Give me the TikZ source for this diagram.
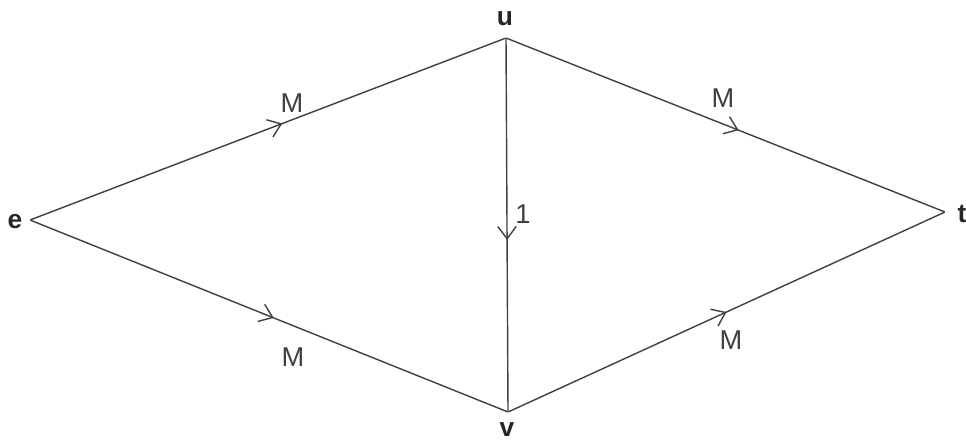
\documentclass[tikz,border=0pt]{standalone}
\usepackage{fontspec}
\setmainfont{Liberation Sans}
\usepackage{tikz}
\usetikzlibrary{arrows.meta, decorations.markings, positioning}

\begin{document}
\begin{tikzpicture}[
    x=0.02cm, y=-0.02cm,
    vertex/.style={inner sep=0pt, minimum size=0pt},
    vlabel/.style={font=\bfseries\fontsize{15}{15}\selectfont, text=black!85},
    edge/.style={line width=0.8pt, draw=black!75,
        postaction={decorate, decoration={markings,
            mark=at position #1 with {\arrow{Straight Barb[length=7pt, width=10.5pt, line width=0.8pt]}}}}},
    edge/.default=0.52,
    weight/.style={font=\fontsize{15.5}{15.5}\selectfont, text=black!75}
]
    \useasboundingbox (0,0) rectangle (966,440);

    % Vertices
    \node[vertex] (u) at (506,38) {};
    \node[vertex] (e) at (30,220) {};
    \node[vertex] (t) at (945,212) {};
    \node[vertex] (v) at (508,412) {};

    % Vertex names
    \node[vlabel] (ulab) at (505,19) {u};
    \node[vlabel] (elab) at (15,222) {e};
    \node[vlabel] (tlab) at (962,214) {t};
    \node[vlabel] (vlab) at (507,430) {v};

    % Arcs
    \draw[edge=0.53] (e) -- (u);
    \draw[edge=0.53] (u) -- (t);
    \draw[edge=0.51] (e) -- (v);
    \draw[edge=0.50] (v) -- (t);
    \draw[edge=0.54] (u) -- (v);

    % Capacities
    \node[weight] (eu) at (292,103) {M};
    \node[weight] (ut) at (723,98) {M};
    \node[weight] (ev) at (293,357) {M};
    \node[weight] (vt) at (731,340) {M};
    \node[weight] (uv) at (523,214) {1};
\end{tikzpicture}
\end{document}
